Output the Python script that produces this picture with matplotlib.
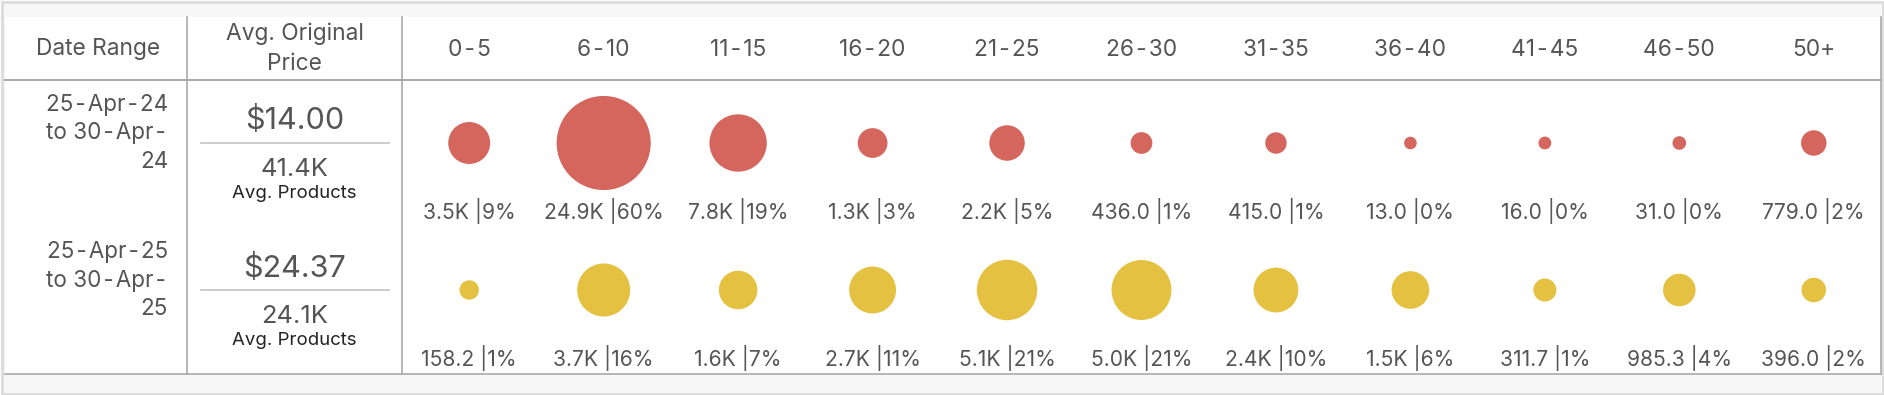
import numpy as np
import matplotlib
matplotlib.use("Agg")
import matplotlib.pyplot as plt
from matplotlib.patches import Rectangle

# ---------------- data ----------------
bins = ["0-5", "6-10", "11-15", "16-20", "21-25", "26-30", "31-35",
        "36-40", "41-45", "46-50", "50+"]
date_ranges = ["25-Apr-24\nto 30-Apr-\n24", "25-Apr-25\nto 30-Apr-\n25"]
avg_price = [14.00, 24.37]
avg_products = ["41.4K", "24.1K"]
counts_2024 = [3500, 24900, 7800, 1300, 2200, 436.0, 415.0, 13.0, 16.0, 31.0, 779.0]
pct_2024 = [9, 60, 19, 3, 5, 1, 1, 0, 0, 0, 2]
counts_2025 = [158.2, 3700, 1600, 2700, 5100, 5000, 2400, 1500, 311.7, 985.3, 396.0]
pct_2025 = [1, 16, 7, 11, 21, 21, 10, 6, 1, 4, 2]

rows = [(counts_2024, pct_2024), (counts_2025, pct_2025)]
row_colors = ["#D4665E", "#E5C141"]

W, H = 1884, 395
DPI = 100
fig = plt.figure(figsize=(W / DPI, H / DPI), dpi=DPI)
ax = fig.add_axes([0, 0, 1, 1])
ax.set_xlim(0, W)
ax.set_ylim(H, 0)
ax.axis("off")

FONT = ["Inter", "DejaVu Sans"]
TXT = "#555555"
HS = "\u200a"  # hair space around hyphens


def spaced(s):
    return s.replace("-", HS + "-" + HS)


# frame
ax.add_patch(Rectangle((1.5, 1.5), W - 3, H - 3, facecolor="#f7f7f7",
                       edgecolor="#dddddd", lw=2.2, zorder=0))
ax.add_patch(Rectangle((5, 17), 1876, 357, facecolor="white",
                       edgecolor="none", zorder=0.5))
# grid lines
line_c = "#a9a9a9"
ax.plot([5, 1881], [79.5, 79.5], color=line_c, lw=1.4, zorder=1)
ax.plot([5, 1881], [374, 374], color=line_c, lw=1.2, zorder=1)
for xv in (187, 402, 1881):
    ax.plot([xv, xv], [17, 374], color=line_c, lw=1.2, zorder=1)

# header
HF = 16.4
ax.text(98, 54.5, "Date Range", ha="center", va="baseline",
        fontsize=HF, color=TXT, family=FONT)
ax.text(294.5, 40, "Avg. Original", ha="center", va="baseline",
        fontsize=HF, color=TXT, family=FONT)
ax.text(294.5, 69.5, "Price", ha="center", va="baseline",
        fontsize=HF, color=TXT, family=FONT)

col_w = (1881 - 402) / len(bins)
xs = 402 + col_w * (np.arange(len(bins)) + 0.5)
for x, b in zip(xs, bins):
    ax.text(x, 55.5, spaced(b), ha="center", va="baseline",
            fontsize=HF, color=TXT, family=FONT)


def fmt(v):
    return f"{v/1000:.1f}K" if v >= 1000 else f"{v:.1f}"


row_off = 147
for i, ((cnts, pcts), col) in enumerate(zip(rows, row_colors)):
    dy = i * row_off
    # date range, right aligned
    for j, line in enumerate(date_ranges[i].split("\n")):
        ax.text(168, 111 + dy + j * 28.5, spaced(line), ha="right", va="baseline",
                fontsize=16.2, color=TXT, family=FONT)
    # price block
    ax.text(294.5, 129.5 + dy, f"${avg_price[i]:.2f}", ha="center", va="baseline",
            fontsize=22, color=TXT, family=FONT)
    ax.plot([201, 389], [143 + dy, 143 + dy], color="#c8c8c8", lw=1.3, zorder=1)
    ax.text(294.5, 176 + dy, avg_products[i], ha="center", va="baseline",
            fontsize=18.3, color=TXT, family=FONT)
    ax.text(294.5, 198 + dy, "Avg. Products", ha="center", va="baseline",
            fontsize=13.4, color="#222222", family=FONT)
    # bubbles: diameter from share of products
    cnt = np.array(cnts, dtype=float)
    share = cnt / cnt.sum() * 100
    d_px = 10.7 + 10.75 * np.sqrt(share)
    s = (d_px * 72 / DPI) ** 2
    ax.scatter(xs, np.full(len(xs), 143 + dy), s=s, color=col,
               edgecolors="none", zorder=3)
    for x, c, p in zip(xs, cnts, pcts):
        ax.text(x, 219 + dy, f"{fmt(c)} |{p}%", ha="center", va="baseline",
                fontsize=15.2, color=TXT, family=FONT)

fig.savefig("out.png", dpi=DPI)
